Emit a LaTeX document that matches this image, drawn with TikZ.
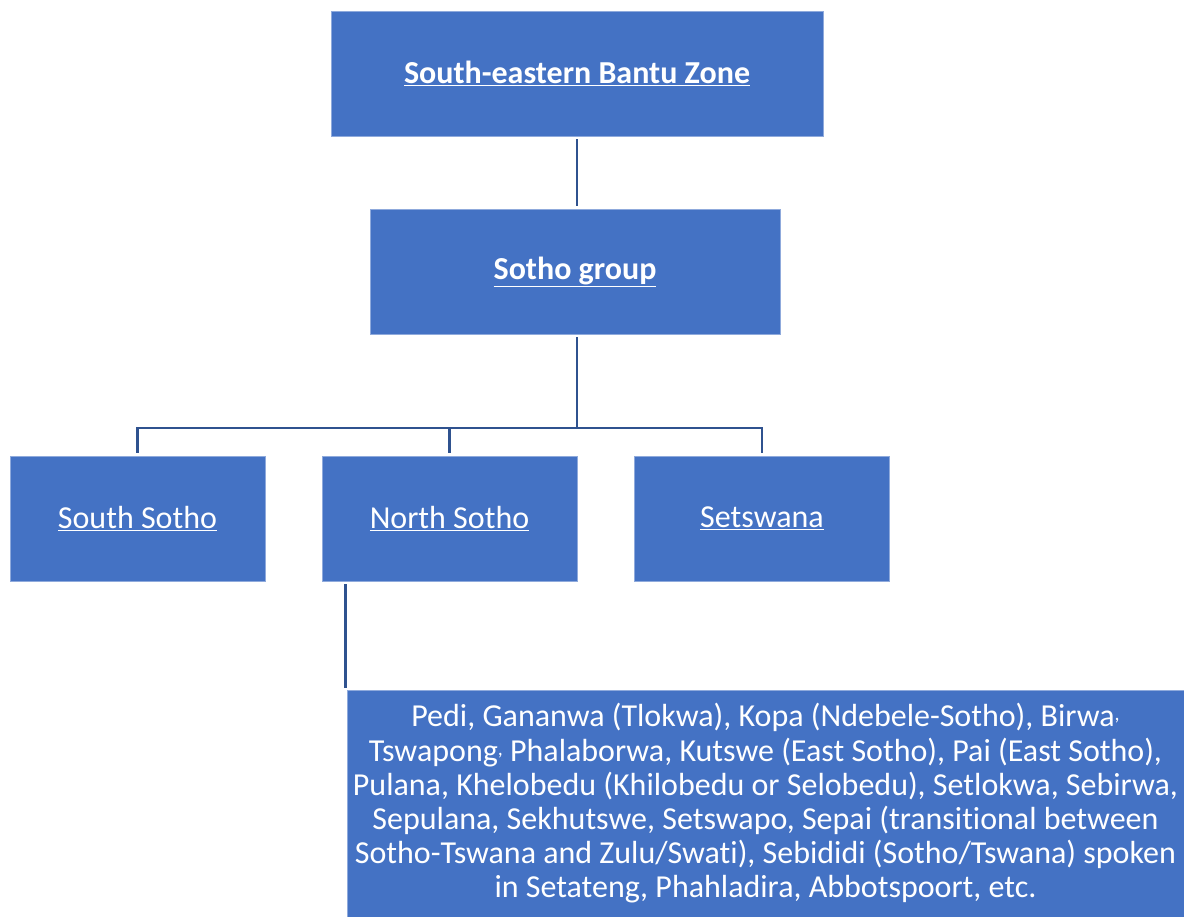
\documentclass[tikz,border=0pt]{standalone}
\usepackage{fontspec}
\setmainfont[Ligatures=NoCommon]{Carlito}
\definecolor{boxblue}{RGB}{68,114,196}
\definecolor{boxedge}{RGB}{143,170,220}
\definecolor{linkblue}{RGB}{47,82,143}
\tikzset{
	langbox/.style={rectangle, fill=boxblue, draw=boxedge, line width=0.6pt, text=white,
		minimum width=255pt, minimum height=125pt, inner sep=4pt,
		font=\fontsize{32}{34.2}\selectfont},
	link/.style={draw=linkblue, line width=2.6pt, shorten <=3pt, shorten >=3pt}
}

\begin{document}
\begin{tikzpicture}[x=1pt, y=-1pt]
	\useasboundingbox (0,0) rectangle (1184,917);
	\node[langbox, minimum width=492pt, font=\bfseries\fontsize{32}{34.2}\selectfont] (zone) at (577,73.5) {\underline{South-eastern Bantu Zone}};
	\node[langbox, minimum width=410pt, font=\bfseries\fontsize{32}{34.2}\selectfont] (group) at (575,271.5) {\underline{Sotho group}};
	\node[langbox] (south) at (137.5,518.5) {\underline{South Sotho}};
	\node[langbox] (north) at (449.5,518.5) {\underline{North Sotho}};
	\node[langbox] (setswana) at (762,518.5) {\underline{Setswana}};
	\node[langbox, minimum width=837pt, minimum height=227pt, align=center, inner sep=2pt] (detail) at (765.5,803.5)
		{Pedi, Gananwa (Tlokwa), Kopa (Ndebele-Sotho), Birwa\raisebox{0.4ex}{\fontsize{20}{20}\selectfont,}\\
		Tswapong\raisebox{0.4ex}{\fontsize{20}{20}\selectfont,} Phalaborwa, Kutswe (East Sotho), Pai (East Sotho),\\
		Pulana, Khelobedu (Khilobedu or Selobedu), Setlokwa, Sebirwa,\\
		Sepulana, Sekhutswe, Setswapo, Sepai (transitional between\\
		Sotho-Tswana and Zulu/Swati), Sebididi (Sotho/Tswana) spoken\\
		in Setateng, Phahladira, Abbotspoort, etc.};

	\coordinate (fork) at (577,428);
	\draw[link] (zone.south) -- (zone.south |- group.north);
	\draw[link, shorten >=0pt] (fork |- group.south) -- (fork);
	\draw[link, shorten <=0pt] (fork) -| (south.north);
	\draw[link, shorten <=0pt] (fork) -| (north.north);
	\draw[link, shorten <=0pt] (fork) -| (setswana.north);
	\draw[link, shorten >=2pt] ([xshift=24pt]north.south west) -- ([xshift=24pt]north.south west |- detail.north);
\end{tikzpicture}
\end{document}
